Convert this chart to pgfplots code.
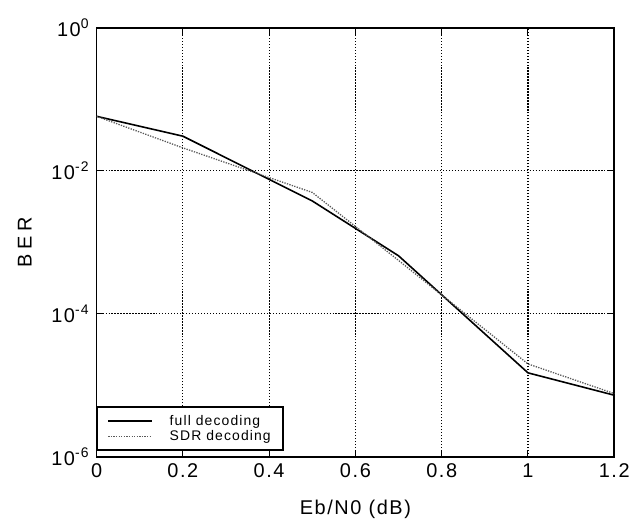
\documentclass[border=0pt]{standalone}
\usepackage{pgfplots}
\pgfplotsset{compat=1.18}
\usepackage{fontspec}
\setmainfont{Liberation Sans}[LetterSpace=8]
\newfontfamily\widefont{Liberation Sans}[LetterSpace=25]

\begin{document}
\begin{tikzpicture}[font=\fontsize{20}{24}\selectfont]
\begin{semilogyaxis}[
    scale only axis,
    width=520pt, height=431pt,
    xmin=0, xmax=1.2, ymin=1e-6, ymax=1,
    xtick={0,0.2,0.4,0.6,0.8,1,1.2},
    xticklabels={0,0.2,0.4,0.6,0.8,1,1.2},
    ytick={1e-6,1e-4,1e-2,1},
    yticklabels={10\textsuperscript{-6},10\textsuperscript{-4},10\textsuperscript{-2},10\textsuperscript{0}},
    minor ytick={},
    tick label style={font=\fontsize{20}{24}\selectfont},
    label style={font=\fontsize{20}{24}\selectfont},
    tick align=inside,
    major tick length=7pt,
    tick style={black, line width=1pt},
    axis line style={line width=1.6pt},
    grid=major,
    grid style={black, dash pattern=on 1.2pt off 1.8pt, line width=1.1pt},
    xlabel={Eb/N0 (dB)},
    ylabel={{\widefont BER}},
    xlabel style={at={(axis description cs:0.5,0)}, anchor=center, yshift=-53pt},
    ylabel style={at={(axis description cs:0,0.5)}, anchor=center, yshift=72pt},
    yticklabel style={xshift=-4pt},
    xticklabel style={yshift=-3pt},
    legend style={at={(0,0)}, anchor=south west, xshift=0pt, yshift=6pt,
        draw=black, line width=1.8pt, font=\fontsize{14}{16}\selectfont,
        inner xsep=10pt, inner ysep=6pt, row sep=0pt},
    legend cell align=left,
    legend image code/.code={\draw[#1] (0pt,0pt) -- (44pt,0pt);},
]
\addplot[black, line width=1.6pt] coordinates {
    (0,0.058) (0.2,0.0306) (0.5,0.0038) (0.7,0.00065) (1.0,1.5e-5) (1.2,7.3e-6)
};
\addlegendentry{\hspace{15pt}full decoding\hspace{26pt}}
\addplot[black!65, dash pattern=on 1.3pt off 1.3pt, line width=1.3pt] coordinates {
    (0,0.058) (0.2,0.021) (0.5,0.005) (0.7,0.00056) (1.0,2.0e-5) (1.2,7.7e-6)
};
\addlegendentry{\hspace{15pt}SDR decoding\hspace{26pt}}
\end{semilogyaxis}
\path (current axis.south west) ++(-97pt,-70pt) rectangle ++(633pt,529pt);
\end{tikzpicture}
\end{document}
